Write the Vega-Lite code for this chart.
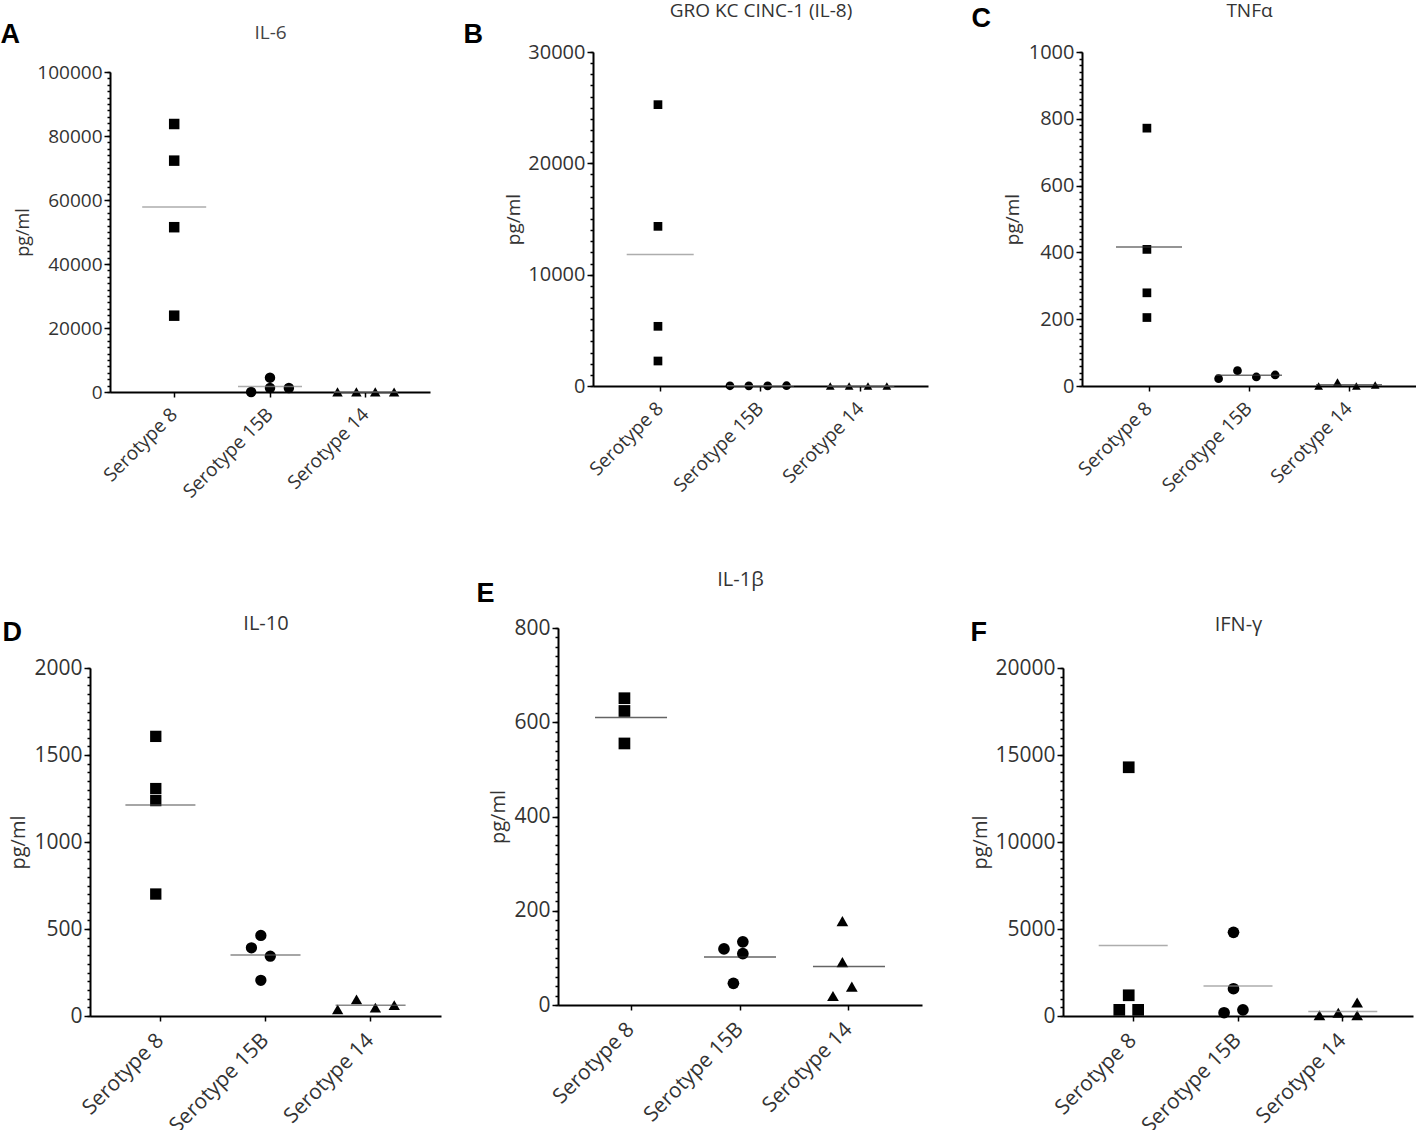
{
  "$schema": "https://vega.github.io/schema/vega-lite/v6.json",
  "padding": {"top": 1, "left": 0, "right": 0, "bottom": 0},
  "background": "white",
  "data": {
    "values": [
      {"panel": "A", "group": "Serotype 8", "slot": 0, "value": 83750},
      {"panel": "A", "group": "Serotype 8", "slot": 0, "value": 72300},
      {"panel": "A", "group": "Serotype 8", "slot": 0, "value": 51500},
      {"panel": "A", "group": "Serotype 8", "slot": 0, "value": 23850},
      {"panel": "A", "group": "Serotype 15B", "slot": -1, "value": 0},
      {"panel": "A", "group": "Serotype 15B", "slot": 0, "value": 4480},
      {"panel": "A", "group": "Serotype 15B", "slot": 0, "value": 1250},
      {"panel": "A", "group": "Serotype 15B", "slot": 1, "value": 1250},
      {"panel": "A", "group": "Serotype 14", "slot": -1.5, "value": 40},
      {"panel": "A", "group": "Serotype 14", "slot": -0.5, "value": 30},
      {"panel": "A", "group": "Serotype 14", "slot": 0.5, "value": 50},
      {"panel": "A", "group": "Serotype 14", "slot": 1.5, "value": 20},

      {"panel": "B", "group": "Serotype 8", "slot": 0, "value": 25270},
      {"panel": "B", "group": "Serotype 8", "slot": 0, "value": 14340},
      {"panel": "B", "group": "Serotype 8", "slot": 0, "value": 5360},
      {"panel": "B", "group": "Serotype 8", "slot": 0, "value": 2245},
      {"panel": "B", "group": "Serotype 15B", "slot": -1.5, "value": 20},
      {"panel": "B", "group": "Serotype 15B", "slot": -0.5, "value": 15},
      {"panel": "B", "group": "Serotype 15B", "slot": 0.5, "value": 10},
      {"panel": "B", "group": "Serotype 15B", "slot": 1.5, "value": 25},
      {"panel": "B", "group": "Serotype 14", "slot": -1.5, "value": 5},
      {"panel": "B", "group": "Serotype 14", "slot": -0.5, "value": 8},
      {"panel": "B", "group": "Serotype 14", "slot": 0.5, "value": 3},
      {"panel": "B", "group": "Serotype 14", "slot": 1.5, "value": 6},

      {"panel": "C", "group": "Serotype 8", "slot": 0, "value": 772},
      {"panel": "C", "group": "Serotype 8", "slot": 0, "value": 409},
      {"panel": "C", "group": "Serotype 8", "slot": 0, "value": 279},
      {"panel": "C", "group": "Serotype 8", "slot": 0, "value": 205},
      {"panel": "C", "group": "Serotype 15B", "slot": -1.5, "value": 22},
      {"panel": "C", "group": "Serotype 15B", "slot": -0.5, "value": 46},
      {"panel": "C", "group": "Serotype 15B", "slot": 0.5, "value": 27},
      {"panel": "C", "group": "Serotype 15B", "slot": 1.5, "value": 33},
      {"panel": "C", "group": "Serotype 14", "slot": -1.5, "value": 0},
      {"panel": "C", "group": "Serotype 14", "slot": -0.5, "value": 12},
      {"panel": "C", "group": "Serotype 14", "slot": 0.5, "value": 0},
      {"panel": "C", "group": "Serotype 14", "slot": 1.5, "value": 3},

      {"panel": "D", "group": "Serotype 8", "slot": 0, "value": 1607},
      {"panel": "D", "group": "Serotype 8", "slot": 0, "value": 1307},
      {"panel": "D", "group": "Serotype 8", "slot": 0, "value": 1238},
      {"panel": "D", "group": "Serotype 8", "slot": 0, "value": 701},
      {"panel": "D", "group": "Serotype 15B", "slot": 0, "value": 463},
      {"panel": "D", "group": "Serotype 15B", "slot": -0.5, "value": 392},
      {"panel": "D", "group": "Serotype 15B", "slot": 0.5, "value": 344},
      {"panel": "D", "group": "Serotype 15B", "slot": 0, "value": 205},
      {"panel": "D", "group": "Serotype 14", "slot": -1.5, "value": 38},
      {"panel": "D", "group": "Serotype 14", "slot": -0.5, "value": 96},
      {"panel": "D", "group": "Serotype 14", "slot": 0.5, "value": 48},
      {"panel": "D", "group": "Serotype 14", "slot": 1.5, "value": 63},

      {"panel": "E", "group": "Serotype 8", "slot": 0, "value": 651},
      {"panel": "E", "group": "Serotype 8", "slot": 0, "value": 624},
      {"panel": "E", "group": "Serotype 8", "slot": 0, "value": 555},
      {"panel": "E", "group": "Serotype 15B", "slot": -0.5, "value": 119},
      {"panel": "E", "group": "Serotype 15B", "slot": 0.5, "value": 134},
      {"panel": "E", "group": "Serotype 15B", "slot": 0.5, "value": 109},
      {"panel": "E", "group": "Serotype 15B", "slot": 0, "value": 46},
      {"panel": "E", "group": "Serotype 14", "slot": 0, "value": 178},
      {"panel": "E", "group": "Serotype 14", "slot": 0, "value": 91},
      {"panel": "E", "group": "Serotype 14", "slot": -0.5, "value": 19},
      {"panel": "E", "group": "Serotype 14", "slot": 0.5, "value": 39},

      {"panel": "F", "group": "Serotype 8", "slot": 0, "value": 14295},
      {"panel": "F", "group": "Serotype 8", "slot": 0, "value": 1191},
      {"panel": "F", "group": "Serotype 8", "slot": -0.5, "value": 355},
      {"panel": "F", "group": "Serotype 8", "slot": 0.5, "value": 355},
      {"panel": "F", "group": "Serotype 15B", "slot": 0, "value": 4807},
      {"panel": "F", "group": "Serotype 15B", "slot": 0, "value": 1567},
      {"panel": "F", "group": "Serotype 15B", "slot": -0.5, "value": 188},
      {"panel": "F", "group": "Serotype 15B", "slot": 0.5, "value": 355},
      {"panel": "F", "group": "Serotype 14", "slot": -1, "value": 40},
      {"panel": "F", "group": "Serotype 14", "slot": 0, "value": 188},
      {"panel": "F", "group": "Serotype 14", "slot": 1, "value": 773},
      {"panel": "F", "group": "Serotype 14", "slot": 1, "value": 40}
    ]
  },
  "columns": 3,
  "bounds": "flush",
  "align": "each",
  "spacing": {"row": 236, "column": 0},
  "concat": [
    {
      "width": 468, "height": 340,
      "transform": [{"filter": "datum.panel === 'A'"}],
      "resolve": {"axis": {"x": "independent", "y": "independent"}},
      "layer": [
        {
          "mark": {"type": "point", "filled": true, "opacity": 1, "color": "black", "size": 110},
          "encoding": {
            "x": {"field": "group", "type": "nominal",
              "scale": {"domain": ["Serotype 8", "Serotype 15B", "Serotype 14"], "range": [20, 340], "paddingInner": 0, "paddingOuter": 0.17},
              "axis": {"orient": "bottom", "labelAngle": -45, "labelAlign": "right", "labelBaseline": "middle", "labelPadding": 14, "tickSize": 5, "title": "A", "titleX": -90, "titleY": -358, "titleAngle": 0, "titleAlign": "left", "titleBaseline": "middle", "titleFont": "Liberation Sans", "titleFontSize": 27, "titleFontWeight": "bold", "titleColor": "black"}},
            "xOffset": {"field": "slot", "type": "quantitative", "scale": {"domain": [-2.54, 2.54]}},
            "y": {"field": "value", "type": "quantitative",
              "scale": {"domain": [0, 100000], "range": [340, 20], "nice": false},
              "axis": {"orient": "left", "offset": -20, "tickCount": 50, "tickSize": 3, "labels": false, "title": null}},
            "shape": {"field": "group", "type": "nominal", "scale": {"domain": ["Serotype 8", "Serotype 15B", "Serotype 14"], "range": ["square", "circle", "triangle-up"]}, "legend": null}
          }
        },
        {
          "transform": [{"aggregate": [{"op": "mean", "field": "value", "as": "mean"}], "groupby": ["group"]}],
          "mark": {"type": "tick", "size": 64, "thickness": 1.5, "color": "#8a8a8a"},
          "encoding": {
            "x": {"field": "group", "type": "nominal",
              "scale": {"domain": ["Serotype 8", "Serotype 15B", "Serotype 14"], "range": [20, 340], "paddingInner": 0, "paddingOuter": 0.17},
              "axis": {"orient": "top", "title": "IL-6", "titleY": -20, "titleBaseline": "middle", "titleColor": "#444444", "labels": false, "ticks": false, "domain": false}},
            "y": {"field": "mean", "type": "quantitative",
              "scale": {"domain": [0, 100000], "range": [340, 20], "nice": false},
              "axis": {"orient": "left", "offset": -20, "values": [0, 20000, 40000, 60000, 80000, 100000], "format": "d", "tickSize": 6, "domain": false, "title": "pg/ml", "titleX": -87, "titleBaseline": "middle", "titleFontSize": 18}}
          }
        }
      ]
    },
    {
      "width": 505, "height": 334,
      "transform": [{"filter": "datum.panel === 'B'"}],
      "resolve": {"axis": {"x": "independent", "y": "independent"}},
      "layer": [
        {
          "mark": {"type": "point", "filled": true, "opacity": 1, "color": "black", "size": 76},
          "encoding": {
            "x": {"field": "group", "type": "nominal",
              "scale": {"domain": ["Serotype 8", "Serotype 15B", "Serotype 14"], "range": [35, 370], "paddingInner": 0, "paddingOuter": 0.17},
              "axis": {"orient": "bottom", "labelAngle": -45, "labelAlign": "right", "labelBaseline": "middle", "labelPadding": 14, "tickSize": 5, "title": "B", "titleX": -95, "titleY": -352, "titleAngle": 0, "titleAlign": "left", "titleBaseline": "middle", "titleFont": "Liberation Sans", "titleFontSize": 27, "titleFontWeight": "bold", "titleColor": "black"}},
            "xOffset": {"field": "slot", "type": "quantitative", "scale": {"domain": [-2.54, 2.54]}},
            "y": {"field": "value", "type": "quantitative",
              "scale": {"domain": [0, 30000], "nice": false},
              "axis": {"orient": "left", "offset": -35, "tickCount": 30, "tickSize": 3, "labels": false, "title": null}},
            "shape": {"field": "group", "type": "nominal", "scale": {"domain": ["Serotype 8", "Serotype 15B", "Serotype 14"], "range": ["square", "circle", "triangle-up"]}, "legend": null}
          }
        },
        {
          "transform": [{"aggregate": [{"op": "mean", "field": "value", "as": "mean"}], "groupby": ["group"]}],
          "mark": {"type": "tick", "size": 67, "thickness": 1.5, "color": "#8a8a8a"},
          "encoding": {
            "x": {"field": "group", "type": "nominal",
              "scale": {"domain": ["Serotype 8", "Serotype 15B", "Serotype 14"], "range": [35, 370], "paddingInner": 0, "paddingOuter": 0.17},
              "axis": {"orient": "top", "title": "GRO KC CINC-1 (IL-8)", "titleY": -42, "titleBaseline": "middle", "labels": false, "ticks": false, "domain": false}},
            "y": {"field": "mean", "type": "quantitative",
              "scale": {"domain": [0, 30000], "nice": false},
              "axis": {"orient": "left", "offset": -35, "values": [0, 10000, 20000, 30000], "format": "d", "tickSize": 6, "domain": false, "labelFontSize": 20, "title": "pg/ml", "titleX": -80, "titleBaseline": "middle"}}
          }
        }
      ]
    },
    {
      "width": 353, "height": 334,
      "transform": [{"filter": "datum.panel === 'C'"}],
      "resolve": {"axis": {"x": "independent", "y": "independent"}},
      "layer": [
        {
          "mark": {"type": "point", "filled": true, "opacity": 1, "color": "black", "size": 76},
          "encoding": {
            "x": {"field": "group", "type": "nominal",
              "scale": {"domain": ["Serotype 8", "Serotype 15B", "Serotype 14"], "range": [19, 353], "paddingInner": 0, "paddingOuter": 0.17},
              "axis": {"orient": "bottom", "labelAngle": -45, "labelAlign": "right", "labelBaseline": "middle", "labelPadding": 14, "tickSize": 5, "title": "C", "titleX": -92, "titleY": -368, "titleAngle": 0, "titleAlign": "left", "titleBaseline": "middle", "titleFont": "Liberation Sans", "titleFontSize": 27, "titleFontWeight": "bold", "titleColor": "black"}},
            "xOffset": {"field": "slot", "type": "quantitative", "scale": {"domain": [-2.54, 2.54]}},
            "y": {"field": "value", "type": "quantitative",
              "scale": {"domain": [0, 1000], "nice": false},
              "axis": {"orient": "left", "offset": -19, "tickCount": 50, "tickSize": 3, "labels": false, "title": null}},
            "shape": {"field": "group", "type": "nominal", "scale": {"domain": ["Serotype 8", "Serotype 15B", "Serotype 14"], "range": ["square", "circle", "triangle-up"]}, "legend": null}
          }
        },
        {
          "transform": [{"aggregate": [{"op": "mean", "field": "value", "as": "mean"}], "groupby": ["group"]}],
          "mark": {"type": "tick", "size": 66, "thickness": 1.5, "color": "#333333"},
          "encoding": {
            "x": {"field": "group", "type": "nominal",
              "scale": {"domain": ["Serotype 8", "Serotype 15B", "Serotype 14"], "range": [19, 353], "paddingInner": 0, "paddingOuter": 0.17},
              "axis": {"orient": "top", "title": "TNFα", "titleY": -42, "titleBaseline": "middle", "labels": false, "ticks": false, "domain": false}},
            "y": {"field": "mean", "type": "quantitative",
              "scale": {"domain": [0, 1000], "nice": false},
              "axis": {"orient": "left", "offset": -19, "values": [0, 200, 400, 600, 800, 1000], "format": "d", "tickSize": 6, "domain": false, "labelFontSize": 20, "title": "pg/ml", "titleX": -70, "titleBaseline": "middle"}}
          }
        }
      ]
    },
    {
      "width": 351, "height": 388,
      "transform": [{"filter": "datum.panel === 'D'"}],
      "resolve": {"axis": {"x": "independent", "y": "independent"}},
      "layer": [
        {
          "mark": {"type": "point", "filled": true, "opacity": 1, "color": "black", "size": 128},
          "encoding": {
            "x": {"field": "group", "type": "nominal",
              "scale": {"domain": ["Serotype 8", "Serotype 15B", "Serotype 14"], "range": [0, 351], "paddingInner": 0, "paddingOuter": 0.17},
              "axis": {"orient": "bottom", "labelAngle": -45, "labelAlign": "right", "labelBaseline": "middle", "labelPadding": 16, "labelFontSize": 21, "tickSize": 5, "title": "D", "titleX": -88, "titleY": -384, "titleAngle": 0, "titleAlign": "left", "titleBaseline": "middle", "titleFont": "Liberation Sans", "titleFontSize": 27, "titleFontWeight": "bold", "titleColor": "black"}},
            "xOffset": {"field": "slot", "type": "quantitative", "scale": {"domain": [-2.54, 2.54]}},
            "y": {"field": "value", "type": "quantitative",
              "scale": {"domain": [0, 2000], "range": [388, 40], "nice": false},
              "axis": {"orient": "left", "tickCount": 40, "tickSize": 3, "labels": false, "title": null}},
            "shape": {"field": "group", "type": "nominal", "scale": {"domain": ["Serotype 8", "Serotype 15B", "Serotype 14"], "range": ["square", "circle", "triangle-up"]}, "legend": null}
          }
        },
        {
          "transform": [{"aggregate": [{"op": "mean", "field": "value", "as": "mean"}], "groupby": ["group"]}],
          "mark": {"type": "tick", "size": 70, "thickness": 1.5, "color": "#555555"},
          "encoding": {
            "x": {"field": "group", "type": "nominal",
              "scale": {"domain": ["Serotype 8", "Serotype 15B", "Serotype 14"], "range": [0, 351], "paddingInner": 0, "paddingOuter": 0.17},
              "axis": {"orient": "top", "title": "IL-10", "titleY": -5, "titleBaseline": "middle", "titleFontSize": 20, "labels": false, "ticks": false, "domain": false}},
            "y": {"field": "mean", "type": "quantitative",
              "scale": {"domain": [0, 2000], "range": [388, 40], "nice": false},
              "axis": {"orient": "left", "values": [0, 500, 1000, 1500, 2000], "format": "d", "tickSize": 6, "domain": false, "labelFontSize": 21, "title": "pg/ml", "titleX": -72, "titleBaseline": "middle", "titleFontSize": 20}}
          }
        }
      ]
    },
    {
      "width": 364, "height": 377,
      "transform": [{"filter": "datum.panel === 'E'"}],
      "resolve": {"axis": {"x": "independent", "y": "independent"}},
      "layer": [
        {
          "mark": {"type": "point", "filled": true, "opacity": 1, "color": "black", "size": 137},
          "encoding": {
            "x": {"field": "group", "type": "nominal",
              "scale": {"domain": ["Serotype 8", "Serotype 15B", "Serotype 14"], "range": [0, 364], "paddingInner": 0, "paddingOuter": 0.17},
              "axis": {"orient": "bottom", "labelAngle": -45, "labelAlign": "right", "labelBaseline": "middle", "labelPadding": 16, "labelFontSize": 21, "tickSize": 5, "title": "E", "titleX": -82, "titleY": -412, "titleAngle": 0, "titleAlign": "left", "titleBaseline": "middle", "titleFont": "Liberation Sans", "titleFontSize": 27, "titleFontWeight": "bold", "titleColor": "black"}},
            "xOffset": {"field": "slot", "type": "quantitative", "scale": {"domain": [-2.54, 2.54]}},
            "y": {"field": "value", "type": "quantitative",
              "scale": {"domain": [0, 800], "nice": false},
              "axis": {"orient": "left", "tickCount": 40, "tickSize": 3, "labels": false, "title": null}},
            "shape": {"field": "group", "type": "nominal", "scale": {"domain": ["Serotype 8", "Serotype 15B", "Serotype 14"], "range": ["square", "circle", "triangle-up"]}, "legend": null}
          }
        },
        {
          "transform": [{"aggregate": [{"op": "mean", "field": "value", "as": "mean"}], "groupby": ["group"]}],
          "mark": {"type": "tick", "size": 72, "thickness": 1.5, "color": "#222222"},
          "encoding": {
            "x": {"field": "group", "type": "nominal",
              "scale": {"domain": ["Serotype 8", "Serotype 15B", "Serotype 14"], "range": [0, 364], "paddingInner": 0, "paddingOuter": 0.17},
              "axis": {"orient": "top", "title": "IL-1β", "titleY": -49, "titleBaseline": "middle", "titleFontSize": 20, "labels": false, "ticks": false, "domain": false}},
            "y": {"field": "mean", "type": "quantitative",
              "scale": {"domain": [0, 800], "nice": false},
              "axis": {"orient": "left", "values": [0, 200, 400, 600, 800], "format": "d", "tickSize": 6, "domain": false, "labelFontSize": 21, "title": "pg/ml", "titleX": -60, "titleBaseline": "middle", "titleFontSize": 20}}
          }
        }
      ]
    },
    {
      "width": 350, "height": 388,
      "transform": [{"filter": "datum.panel === 'F'"}],
      "resolve": {"axis": {"x": "independent", "y": "independent"}},
      "layer": [
        {
          "mark": {"type": "point", "filled": true, "opacity": 1, "color": "black", "size": 137},
          "encoding": {
            "x": {"field": "group", "type": "nominal",
              "scale": {"domain": ["Serotype 8", "Serotype 15B", "Serotype 14"], "range": [0, 350], "paddingInner": 0, "paddingOuter": 0.17},
              "axis": {"orient": "bottom", "labelAngle": -45, "labelAlign": "right", "labelBaseline": "middle", "labelPadding": 16, "labelFontSize": 21, "tickSize": 5, "title": "F", "titleX": -93, "titleY": -384, "titleAngle": 0, "titleAlign": "left", "titleBaseline": "middle", "titleFont": "Liberation Sans", "titleFontSize": 27, "titleFontWeight": "bold", "titleColor": "black"}},
            "xOffset": {"field": "slot", "type": "quantitative", "scale": {"domain": [-2.54, 2.54]}},
            "y": {"field": "value", "type": "quantitative",
              "scale": {"domain": [0, 20000], "range": [388, 40], "nice": false},
              "axis": {"orient": "left", "tickCount": 40, "tickSize": 3, "labels": false, "title": null}},
            "shape": {"field": "group", "type": "nominal", "scale": {"domain": ["Serotype 8", "Serotype 15B", "Serotype 14"], "range": ["square", "circle", "triangle-up"]}, "legend": null}
          }
        },
        {
          "transform": [{"aggregate": [{"op": "mean", "field": "value", "as": "mean"}], "groupby": ["group"]}],
          "mark": {"type": "tick", "size": 69, "thickness": 1.5, "color": "#8a8a8a"},
          "encoding": {
            "x": {"field": "group", "type": "nominal",
              "scale": {"domain": ["Serotype 8", "Serotype 15B", "Serotype 14"], "range": [0, 350], "paddingInner": 0, "paddingOuter": 0.17},
              "axis": {"orient": "top", "title": "IFN-γ", "titleY": -4, "titleBaseline": "middle", "titleFontSize": 20, "labels": false, "ticks": false, "domain": false}},
            "y": {"field": "mean", "type": "quantitative",
              "scale": {"domain": [0, 20000], "range": [388, 40], "nice": false},
              "axis": {"orient": "left", "values": [0, 5000, 10000, 15000, 20000], "format": "d", "tickSize": 6, "domain": false, "labelFontSize": 21, "title": "pg/ml", "titleX": -83, "titleBaseline": "middle", "titleFontSize": 20}}
          }
        }
      ]
    }
  ],
  "config": {
    "view": {"stroke": null},
    "font": "Open Sans",
    "axis": {
      "grid": false,
      "domainColor": "black",
      "domainWidth": 2,
      "tickColor": "black",
      "tickWidth": 1.5,
      "labelFont": "Open Sans",
      "labelFontSize": 19,
      "labelColor": "#333333",
      "labelPadding": 2,
      "labelOverlap": false,
      "titleFont": "Open Sans",
      "titleFontSize": 19,
      "titleFontWeight": "normal",
      "titleColor": "#333333"
    }
  }
}
